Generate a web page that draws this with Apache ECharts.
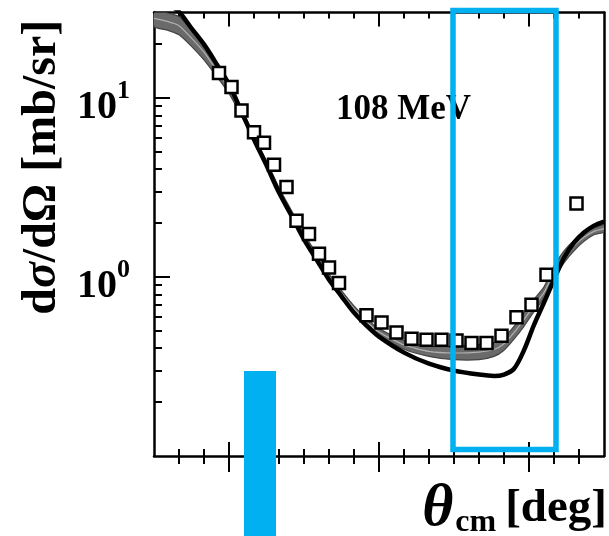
<!DOCTYPE html>
<html>
<head>
<meta charset="utf-8">
<script src="https://cdn.jsdelivr.net/npm/echarts@6/dist/echarts.min.js"></script>
<style>html,body{margin:0;padding:0;background:#fff}#c{width:609px;height:536px}</style>
</head>
<body>
<div id="c"></div>
<script>
// ---- data ----
const dataAngles = [26,31,35,40,44,48,53,57,62,66,70,74,85,91,97,103,109,115,121,127,133,139,145,151,157,169];
const dataValues = [13.8,11.5,8.5,6.44,5.61,4.24,3.18,2.06,1.74,1.35,1.13,0.926,0.612,0.556,0.489,0.452,0.446,0.446,0.442,0.428,0.428,0.47,0.595,0.70,1.03,2.57];

const curveAngles = [0,5,10,15,20,25,30,35,40,45,50,55,60,65,70,75,80,85,90,100,110,120,130,136,140,144,148,152,156,160,164,168,172,176,180];
const blackCurve = [38,34,30.3,24.5,19.9,15.5,11.9,8.4,5.85,4.2,2.96,2.2,1.62,1.25,0.966,0.78,0.632,0.535,0.464,0.378,0.328,0.300,0.285,0.28,0.285,0.307,0.39,0.54,0.72,0.966,1.28,1.555,1.77,1.935,2.04];
const grayUpper = [31,30,28.5,24,19.9,15.5,12,8.7,6.15,4.45,3.15,2.35,1.74,1.35,1.04,0.84,0.69,0.585,0.515,0.44,0.41,0.41,0.42,0.43,0.46,0.53,0.63,0.75,0.88,1.15,1.40,1.60,1.76,1.88,1.95];
const grayLower = [25,24,22.5,19.4,16.3,13.2,10.6,7.9,5.75,4.15,2.95,2.18,1.62,1.26,0.97,0.785,0.64,0.54,0.47,0.395,0.36,0.345,0.345,0.36,0.39,0.45,0.53,0.64,0.76,0.98,1.2,1.40,1.58,1.72,1.78];

const xMajorTicks = [30,90,150];
const xMinorTicks = [10,20,30,40,50,60,70,80,90,100,110,120,130,140,150,160,170];
const yMajorTicks = [1,10];
const yMinorTicks = [0.2,0.3,0.4,0.5,0.6,0.7,0.8,0.9,2,3,4,5,6,7,8,9,20];

const serif = "'Liberation Serif','DejaVu Serif',serif";
const chart = echarts.init(document.getElementById('c'), null, {renderer:'canvas'});

function xAx(pos, inside, len, vals, showLine){
  return {type:'value', min:0, max:180, position:pos,
    axisLine:{show:showLine, onZero:false, lineStyle:{color:'#000', width:2.5}},
    axisTick:{show:true, inside:inside, length:len, customValues:vals, lineStyle:{color:'#000', width:2}},
    axisLabel:{show:false}, splitLine:{show:false}};
}
function yAx(pos, inside, len, vals, showLine, label){
  return {type:'log', min:0.1, max:30, logBase:10, position:pos,
    axisLine:{show:showLine, onZero:false, lineStyle:{color:'#000', width:2.5}},
    axisTick:{show:len>0, inside:inside, length:len, customValues:vals, lineStyle:{color:'#000', width:2}},
    axisLabel: label ? {show:true, customValues:yMajorTicks, margin:24, padding:[10,0,0,0],
      formatter:function(v){ return '{b|10}{s|' + Math.round(Math.log10(v)) + '}'; },
      rich:{b:{fontFamily:serif, fontWeight:'bold', fontSize:40, color:'#000', padding:[10,0,0,0]},
            s:{fontFamily:serif, fontWeight:'bold', fontSize:26, color:'#000', verticalAlign:'top', padding:[0,0,12,0]}}} : {show:false},
    splitLine:{show:false}};
}

const yLeft = yAx('left', true, 16, yMajorTicks, true, true);
yLeft.name = 'd{i|σ}/dΩ [mb/sr]';
yLeft.nameLocation = 'middle';
yLeft.nameRotate = 90;
yLeft.nameGap = 87;
yLeft.nameTextStyle = {fontFamily:serif, fontWeight:'bold', fontSize:48, color:'#000', padding:[0,0,0,134],
  rich:{i:{fontFamily:serif, fontWeight:'bold', fontStyle:'italic', fontSize:48, color:'#000'}}};

chart.setOption({
  animation:false,
  backgroundColor:'#fff',
  grid:{left:154, right:5, top:12.5, bottom:80, containLabel:false},
  title:[
    {text:'108 MeV', left:331, top:87, textStyle:{fontFamily:serif, fontWeight:'bold', fontSize:35, color:'#000'}},
    {text:'{t|θ}{c|cm} {d|[deg]}', right:-3, bottom:-8,
      textStyle:{rich:{
        t:{fontFamily:serif, fontStyle:'italic', fontSize:60, color:'#000'},
        c:{fontFamily:serif, fontWeight:'bold', fontSize:32, color:'#000', verticalAlign:'bottom', padding:[0,4,0,2]},
        d:{fontFamily:serif, fontWeight:'bold', fontSize:47, color:'#000'}}}}
  ],
  xAxis:[
    xAx('bottom', false, 16, xMajorTicks, true),
    xAx('bottom', true, 14, xMajorTicks, false),
    xAx('bottom', false, 8, xMinorTicks, false),
    xAx('bottom', true, 7, xMinorTicks, false),
    xAx('top', true, 14, xMajorTicks, true),
    xAx('top', true, 6, xMinorTicks, false)
  ],
  yAxis:[
    yLeft,
    yAx('left', true, 8, yMinorTicks, false, false),
    yAx('right', true, 0, [], true, false)
  ],
  series:[
    {type:'custom', xAxisIndex:0, yAxisIndex:0, clip:true, z:2,
      data:[[curveAngles[0], grayUpper[0]]],
      renderItem:function(params, api){
        const up = [], lo = [], mid = [];
        for (let i=0;i<curveAngles.length;i++){
          up.push(api.coord([curveAngles[i], grayUpper[i]]));
          lo.push(api.coord([curveAngles[i], grayLower[i]]));
          mid.push(api.coord([curveAngles[i], Math.sqrt(grayUpper[i]*grayLower[i])]));
        }
        const poly = up.concat(lo.slice().reverse());
        return {type:'group', children:[
          {type:'polygon', shape:{points:poly, smooth:0.2}, style:{fill:'#6a6a6a', stroke:'#444', lineWidth:1.2}},
          {type:'polyline', shape:{points:mid, smooth:0.2}, style:{fill:null, stroke:'#b0b0b0', lineWidth:1.2}}
        ]};
      }},
    {type:'line', xAxisIndex:0, yAxisIndex:0, clip:true, z:3, smooth:0.3, symbol:'none',
      data:curveAngles.map((a,i)=>[a, blackCurve[i]]),
      lineStyle:{color:'#000', width:4.5}},
    {type:'scatter', xAxisIndex:0, yAxisIndex:0, z:4, symbol:'rect', symbolSize:12,
      data:dataAngles.map((a,i)=>[a, dataValues[i]]),
      itemStyle:{color:'#fff', borderColor:'#000', borderWidth:2.5, opacity:1}}
  ],
  graphic:[
    {type:'rect', z:100, shape:{x:453, y:10.5, width:103, height:439}, style:{fill:null, stroke:'#00B0F0', lineWidth:5.5}},
    {type:'rect', z:100, shape:{x:244, y:371, width:32, height:170}, style:{fill:'#00B0F0'}}
  ]
});
</script>
</body>
</html>
